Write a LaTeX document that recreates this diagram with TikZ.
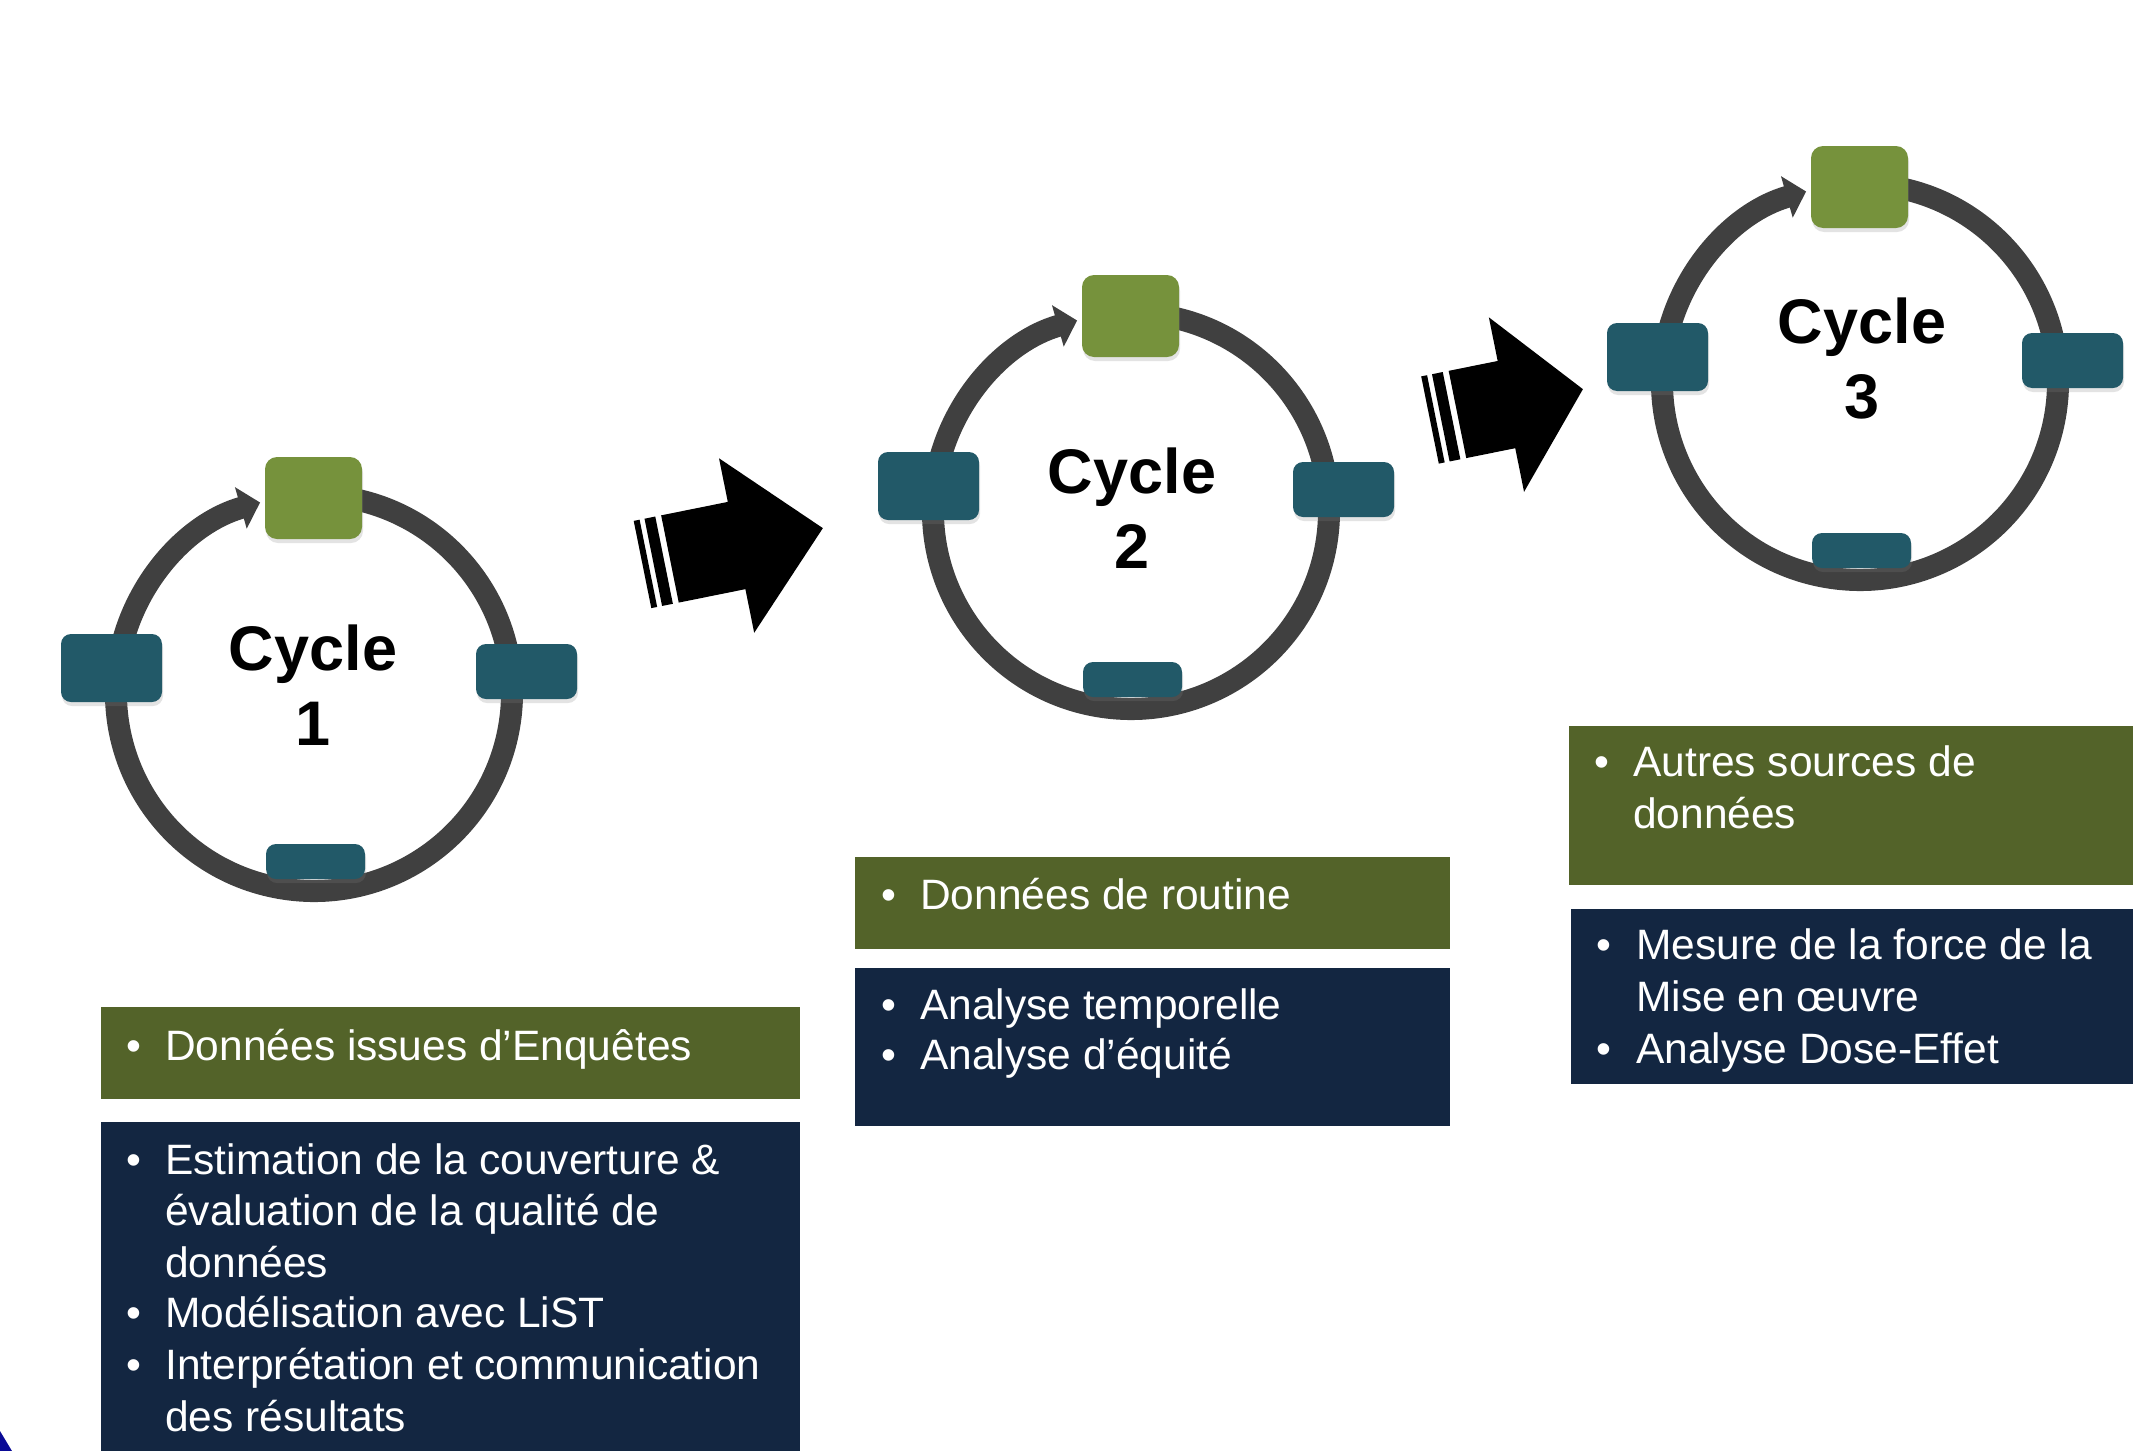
\documentclass[tikz,border=0pt]{standalone}
\usepackage{fontspec}
\setmainfont{Liberation Sans}
\usetikzlibrary{arrows.meta,shadows}
\definecolor{ringgray}{RGB}{64,64,64}
\definecolor{smallgreen}{RGB}{118,146,60}
\definecolor{smallteal}{RGB}{34,89,104}
\definecolor{panelgreen}{RGB}{83,99,41}
\definecolor{panelnavy}{RGB}{19,38,65}
\definecolor{logoblue}{RGB}{10,10,150}
\tikzset{
  ringline/.style={draw=ringgray, line width=22pt, -{Triangle[width=42pt,length=20pt]}},
  softshadow/.style={drop shadow={shadow xshift=1pt,shadow yshift=-4pt,opacity=0.22}},
  gsq/.style={fill=smallgreen, rounded corners=12pt, inner sep=0pt, minimum width=97pt, minimum height=82pt, softshadow},
  tsq/.style={fill=smallteal, rounded corners=10pt, inner sep=0pt, softshadow},
  cyclabel/.style={font=\bfseries\fontsize{63}{75}\selectfont, anchor=base, inner sep=0pt},
  panel/.style={anchor=north west, inner sep=0pt},
  gpanel/.style={panel, fill=panelgreen},
  npanel/.style={panel, fill=panelnavy},
  itemtext/.style={font=\fontsize{42.5}{51}\selectfont, text=white, anchor=base west, inner sep=0pt},
  blockarrow/.style={fill=black}
}
% #1,#2 centre; #3 number; #4,#5 label offset
\newcommand\mycycle[5]{%
  \begin{scope}[shift={(#1,#2)}]
    \draw[ringline] (-80:198) arc[start angle=-80, end angle=254.2, radius=198];
    \node[gsq] (g#3) at (-0.5,-195) {};
    \node[tsq, minimum width=101pt, minimum height=68pt] (l#3) at (-202.5,-25) {};
    \node[tsq, minimum width=101pt, minimum height=55pt] (r#3) at (212.5,-21.5) {};
    \node[tsq, minimum width=99pt, minimum height=35pt] (b#3) at (1.5,168.5) {};
    \node[cyclabel] (cy#3) at (#4,-23+#5) {Cycle};
    \node[cyclabel] (n#3) at (#4,52+#5) {#3};
  \end{scope}}
\newcommand\myarrow[4]{%
  \begin{scope}[shift={(#1,#2)}, rotate=11.4]
    \fill[blockarrow] (0,-44.5) rectangle (6,44.5);
    \fill[blockarrow] (11,-44.5) rectangle (22,44.5);
    \fill[blockarrow] (28,-44.5) -- (#3,-44.5) -- (#3,-89) -- (#4,0) -- (#3,89) -- (#3,44.5) -- (28,44.5) -- cycle;
  \end{scope}}
\begin{document}
\begin{tikzpicture}[x=1pt,y=-1pt]
\path[use as bounding box, fill=white] (0,0) rectangle (2137,1451);

% cycles
\mycycle{314}{693}{1}{-1}{0}
\mycycle{1131}{511}{2}{1}{5}
\mycycle{1860}{382}{3}{2}{-16}

% block arrows
\myarrow{642.5}{564.5}{96}{184}
\myarrow{1430}{420}{78}{156}

% panels cycle 1
\node[gpanel, minimum width=699pt, minimum height=92pt] (p1g) at (101,1007) {};
\node[npanel, minimum width=699pt, minimum height=329pt] (p1n) at (101,1122) {};
\node[itemtext] (p1gb) at (126,1060.4) {•};
\node[itemtext] (p1gt) at (165,1060.4) {Données issues d’Enquêtes};
\node[itemtext] (p1b1) at (126,1174.8) {•};
\node[itemtext] (p1t1) at (165,1174.8) {Estimation de la couverture \&};
\node[itemtext] (p1t2) at (165,1225.3) {évaluation de la qualité de};
\node[itemtext] (p1t3) at (165,1277) {données};
\node[itemtext] (p1b2) at (126,1327.5) {•};
\node[itemtext] (p1t4) at (165,1327.5) {Modélisation avec LiST};
\node[itemtext] (p1b3) at (126,1379.3) {•};
\node[itemtext] (p1t5) at (165,1379.3) {Interprétation et communication};
\node[itemtext] (p1t6) at (165,1431) {des résultats};

% panels cycle 2
\node[gpanel, minimum width=595pt, minimum height=92pt] (p2g) at (855,857) {};
\node[npanel, minimum width=595pt, minimum height=158pt] (p2n) at (855,968) {};
\node[itemtext] (p2gb) at (881,909) {•};
\node[itemtext] (p2gt) at (920,909) {Données de routine};
\node[itemtext] (p2b1) at (881,1019.5) {•};
\node[itemtext] (p2t1) at (920,1019.5) {Analyse temporelle};
\node[itemtext] (p2b2) at (881,1069.9) {•};
\node[itemtext] (p2t2) at (920,1069.9) {Analyse d’équité};

% panels cycle 3
\node[gpanel, minimum width=564pt, minimum height=159pt] (p3g) at (1569,726) {};
\node[npanel, minimum width=562pt, minimum height=175pt] (p3n) at (1571,909) {};
\node[itemtext] (p3gb) at (1594,776.9) {•};
\node[itemtext] (p3gt1) at (1633,776.9) {Autres sources de};
\node[itemtext] (p3gt2) at (1633,828.6) {données};
\node[itemtext] (p3b1) at (1596,959.5) {•};
\node[itemtext] (p3t1) at (1636,959.5) {Mesure de la force de la};
\node[itemtext] (p3t2) at (1636,1011.3) {Mise en œuvre};
\node[itemtext] (p3b2) at (1596,1063) {•};
\node[itemtext] (p3t3) at (1636,1063) {Analyse Dose-Effet};

% cut-off logo corner
\fill[logoblue] (0,1431) -- (12,1451) -- (0,1451) -- cycle;
\end{tikzpicture}
\end{document}
